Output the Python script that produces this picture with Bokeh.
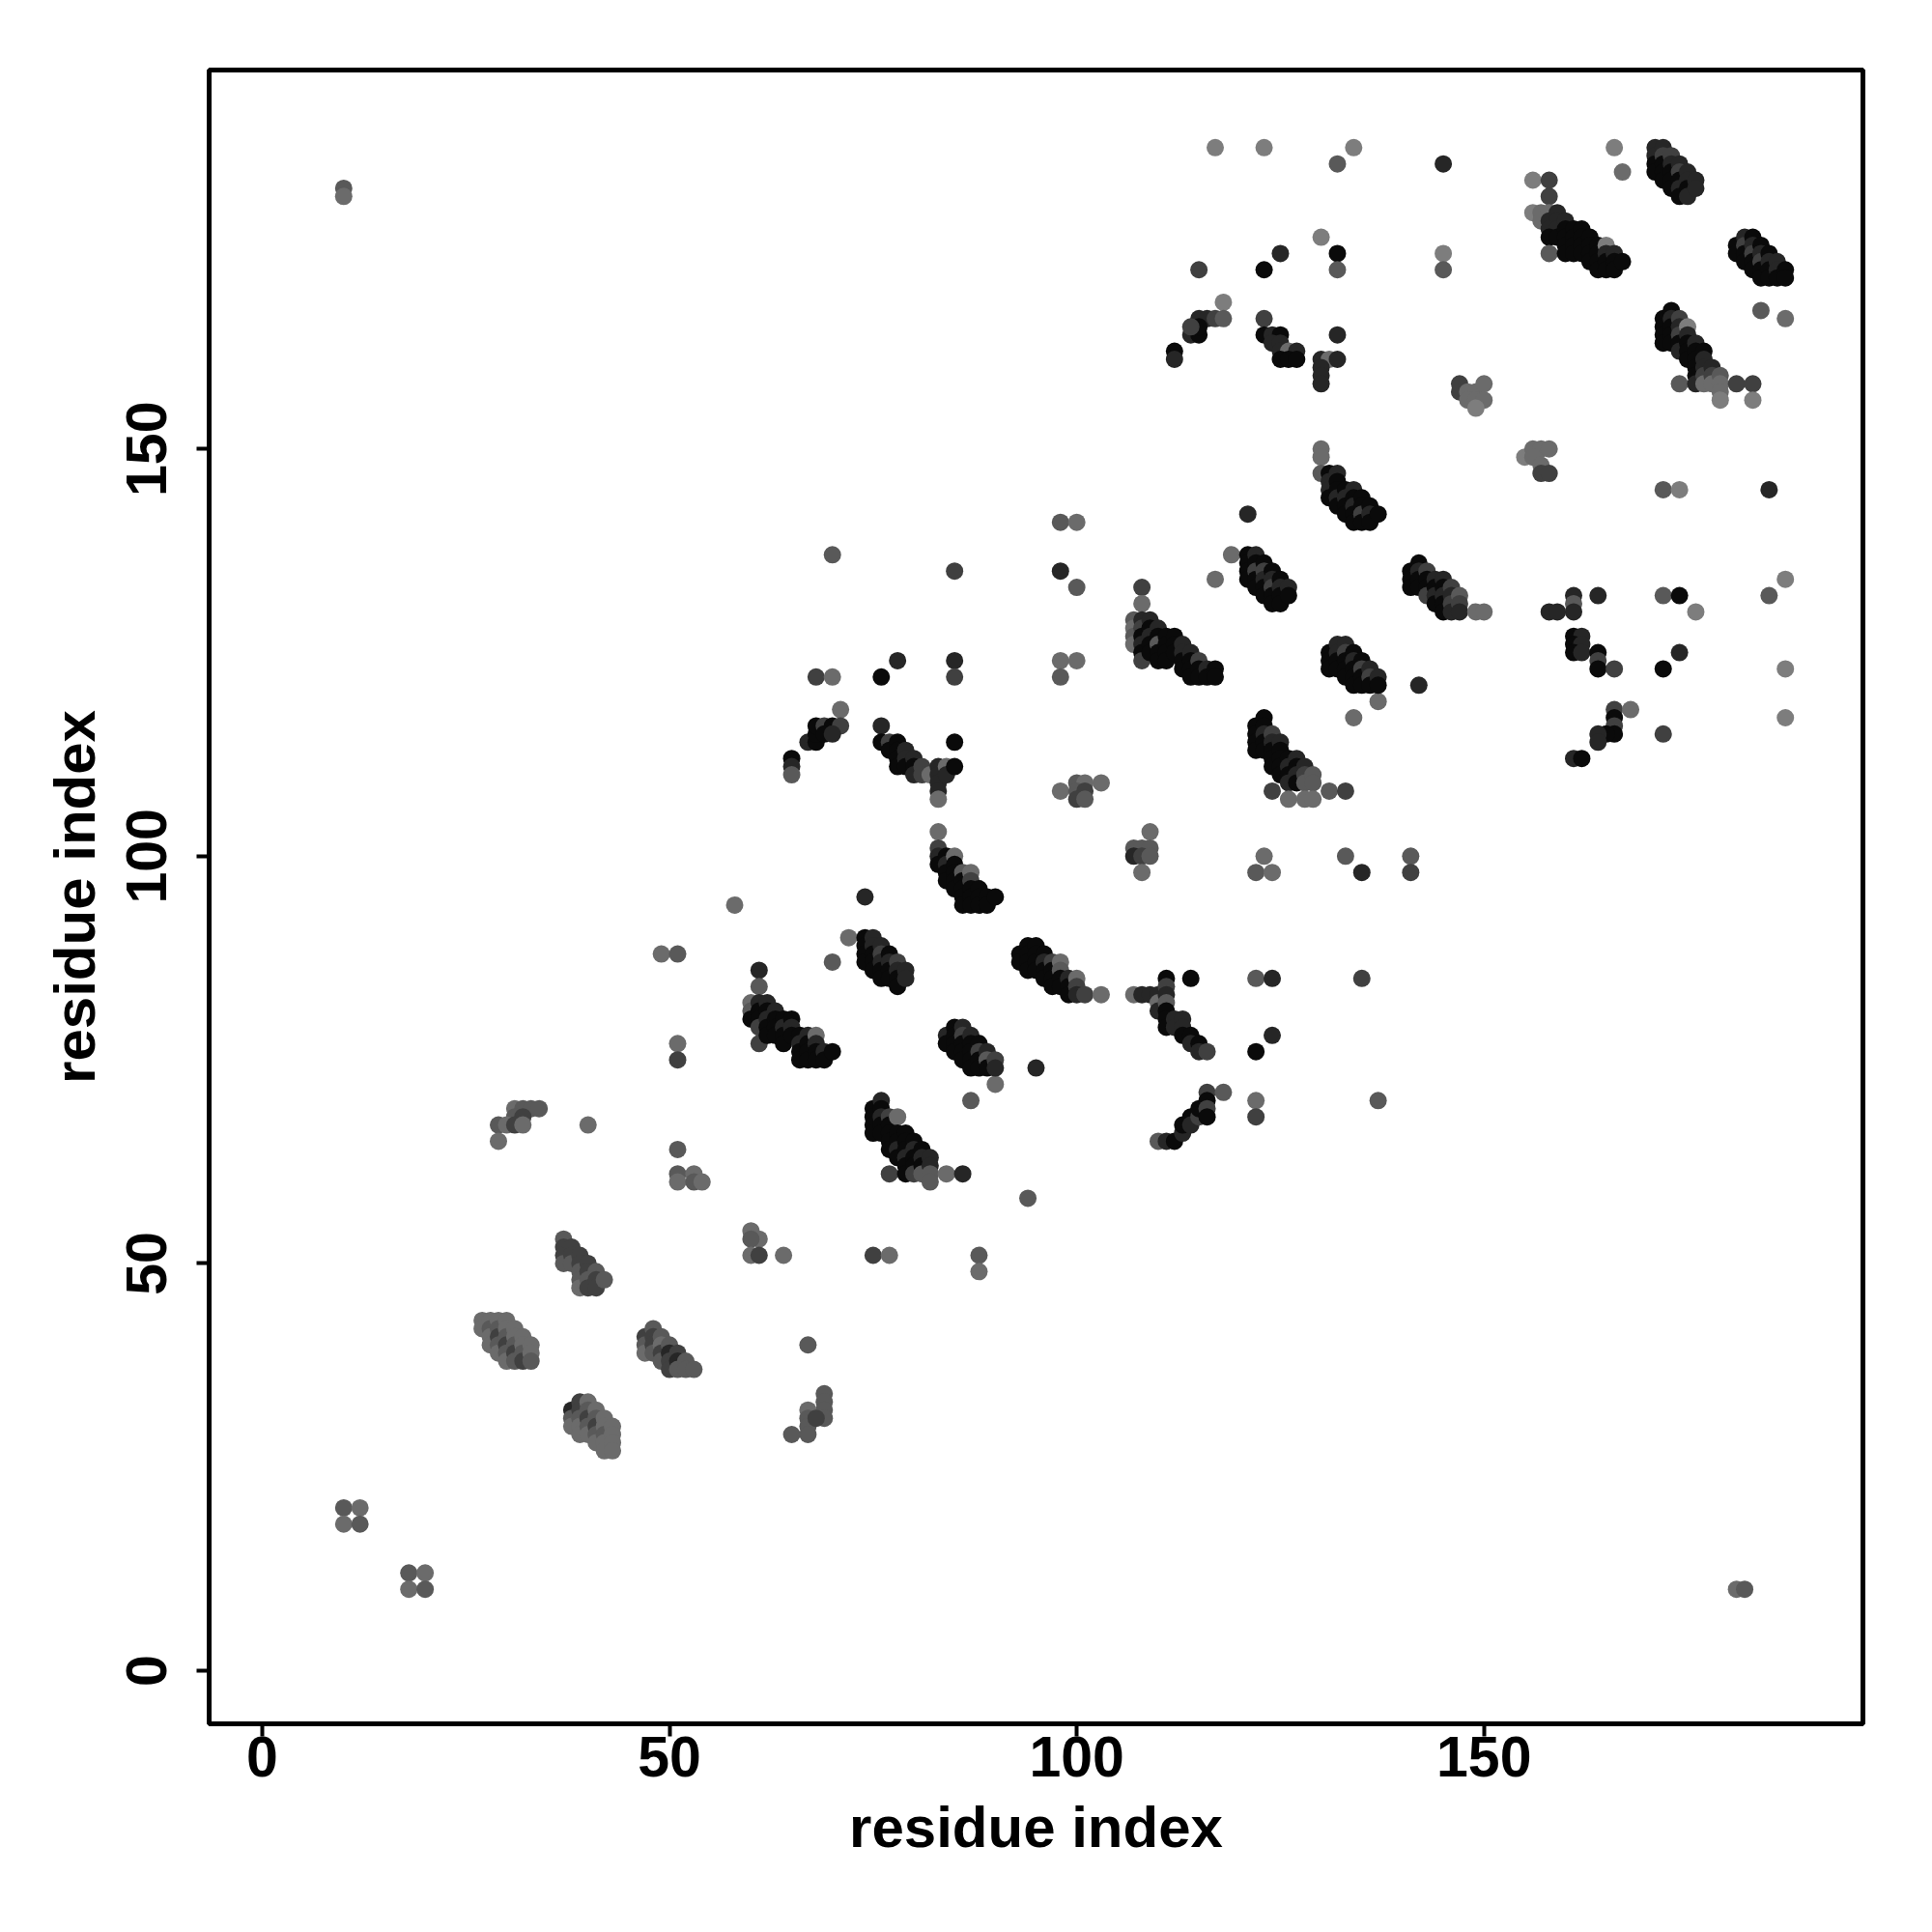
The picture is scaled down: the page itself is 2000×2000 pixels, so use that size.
from bokeh.plotting import figure
from bokeh.models import FixedTicker, Range1d
from bokeh.embed import file_html
from bokeh.resources import INLINE

# gray levels (k = darkest ... w = lightest)
shade_codes = ["k", "d", "m", "g", "l", "w"]
shade_hex = ["#0a0a0a", "#262626", "#404040", "#595959", "#6b6b6b", "#7d7d7d"]

# contacts: (residue i, residue j, shade)
far_pairs = [(10,182,'g'),(10,181,'l'),(181,10,'l'),(182,10,'g'),
             (10,20,'g'),(12,20,'l'),(10,18,'l'),(12,18,'g'),
             (18,12,'g'),(20,12,'l'),(18,10,'l'),(20,10,'g')]

block_27_43 = [(27,43,'l'),(27,42,'l'),
               (28,43,'l'),(28,42,'g'),(28,41,'l'),(28,40,'l'),
               (29,43,'l'),(29,42,'g'),(29,41,'m'),(29,40,'g'),(29,39,'l'),
               (30,43,'l'),(30,42,'l'),(30,41,'g'),(30,40,'m'),(30,39,'g'),(30,38,'l'),
               (31,42,'l'),(31,41,'l'),(31,40,'g'),(31,39,'m'),(31,38,'g'),
               (32,41,'l'),(32,40,'l'),(32,39,'g'),(32,38,'m'),
               (33,40,'l'),(33,39,'l'),(33,38,'g')]

block_38_33 = [(38,32,'d'),(38,31,'g'),(38,30,'l'),
               (39,33,'m'),(39,32,'m'),(39,31,'g'),(39,30,'l'),(39,29,'l'),
               (40,33,'l'),(40,32,'g'),(40,31,'m'),(40,30,'g'),(40,29,'l'),
               (41,32,'l'),(41,31,'g'),(41,30,'m'),(41,29,'g'),(41,28,'l'),
               (42,31,'l'),(42,30,'l'),(42,29,'g'),(42,28,'l'),(42,27,'l'),
               (43,30,'l'),(43,29,'l'),(43,28,'l'),(43,27,'l')]

block_29_69 = [(31,69,'l'),(32,69,'g'),(33,69,'g'),(34,69,'g'),(31,68,'g'),(32,68,'m'),
               (29,67,'g'),(30,67,'l'),(31,67,'m'),(32,67,'l'),(29,65,'l'),(40,67,'l')]

block_37_53 = [(37,53,'g'),(37,52,'m'),(37,51,'m'),(37,50,'g'),
               (38,52,'m'),(38,51,'m'),(38,50,'g'),
               (39,51,'m'),(39,50,'m'),(39,49,'g'),(39,48,'g'),(39,47,'l'),
               (40,50,'m'),(40,49,'m'),(40,48,'g'),(40,47,'m'),
               (41,49,'g'),(41,48,'m'),(41,47,'m'),(42,48,'g')]

block_47_42 = [(47,41,'m'),(47,40,'g'),(47,39,'l'),
               (48,42,'g'),(48,41,'m'),(48,40,'m'),(48,39,'g'),
               (49,41,'g'),(49,40,'l'),(49,39,'m'),(49,38,'g'),
               (50,40,'g'),(50,39,'d'),(50,38,'m'),(50,37,'m'),
               (51,39,'m'),(51,38,'d'),(51,37,'g'),(52,38,'g'),(52,37,'g'),(53,37,'g')]

block_65_34 = [(67,40,'g'),(69,34,'g'),(69,33,'g'),(69,32,'g'),(69,31,'g'),(67,32,'l'),
               (67,31,'g'),(67,30,'g'),(67,29,'g'),(65,29,'g'),(68,31,'m')]

scatter_50_95 = [(58,94,'l'),(49,88,'l'),(51,88,'g'),(51,77,'l'),(51,75,'m'),(51,64,'g'),
                 (51,61,'g'),(53,61,'l'),(51,60,'l'),(53,60,'g'),(54,60,'l'),(60,54,'l'),
                 (61,53,'l'),(60,53,'g'),(60,51,'l'),(61,51,'m'),(64,51,'l'),(75,51,'m'),
                 (77,51,'l'),(88,51,'g'),(88,49,'l'),(94,58,'g'),(72,90,'l'),(70,87,'g'),
                 (90,72,'l'),(87,70,'g'),(95,74,'d'),(61,86,'d'),(61,84,'g'),(61,77,'m')]

block_60_82 = [(60,82,'l'),(60,81,'g'),(60,80,'k'),
               (61,82,'d'),(61,81,'k'),(61,80,'k'),(61,79,'m'),
               (62,82,'d'),(62,81,'k'),(62,80,'d'),(62,79,'k'),(62,78,'k'),
               (63,81,'d'),(63,80,'k'),(63,79,'k'),(63,78,'k'),
               (64,80,'k'),(64,79,'d'),(64,78,'k'),(64,77,'k'),
               (65,80,'k'),(65,79,'d'),(65,78,'k'),
               (66,78,'k'),(66,77,'d'),(66,76,'k'),(66,75,'k'),
               (67,78,'d'),(67,77,'k'),(67,76,'k'),(67,75,'k'),
               (68,78,'l'),(68,77,'d'),(68,76,'k'),(68,75,'k'),
               (69,76,'d'),(69,75,'k'),(70,76,'k')]

block_74_90 = [(74,90,'k'),(74,89,'k'),(74,88,'k'),(74,87,'k'),
               (75,90,'d'),(75,89,'d'),(75,88,'k'),(75,87,'k'),(75,86,'k'),
               (76,89,'d'),(76,88,'m'),(76,87,'d'),(76,86,'k'),(76,85,'k'),
               (77,88,'k'),(77,87,'d'),(77,86,'k'),(77,85,'k'),
               (78,87,'m'),(78,86,'d'),(78,85,'k'),(78,84,'k'),
               (79,86,'d'),(79,85,'d')]

block_84_79 = [(84,78,'d'),(84,77,'k'),
               (85,79,'k'),(85,78,'k'),(85,77,'k'),(85,76,'k'),
               (86,79,'d'),(86,78,'m'),(86,77,'k'),(86,76,'k'),(86,75,'k'),
               (87,78,'d'),(87,77,'k'),(87,76,'k'),(87,75,'k'),(87,74,'k'),
               (88,77,'k'),(88,76,'m'),(88,75,'k'),(88,74,'k'),
               (89,76,'d'),(89,75,'g'),(89,74,'k'),(90,75,'m'),(90,74,'d')]

block_75_70 = [(75,69,'k'),(75,68,'k'),(75,67,'k'),(75,66,'k'),
               (76,70,'d'),(76,69,'k'),(76,68,'d'),(76,67,'k'),(76,66,'k'),
               (77,68,'m'),(77,67,'k'),(77,66,'k'),(77,65,'k'),(77,64,'k'),(77,61,'m'),
               (78,68,'l'),(78,66,'k'),(78,65,'k'),(78,64,'d'),(78,63,'k'),
               (79,66,'k'),(79,65,'k'),(79,64,'k'),(79,63,'d'),(79,62,'k'),(79,61,'k'),
               (80,65,'k'),(80,64,'d'),(80,63,'k'),(80,62,'k'),(80,61,'m'),
               (81,64,'k'),(81,63,'d'),(81,62,'k'),(81,61,'g'),
               (82,63,'d'),(82,62,'d'),(82,61,'g'),(82,60,'g'),(84,61,'l'),(86,61,'d')]

scatter_65_137 = [(70,137,'g'),(85,135,'m'),(68,122,'m'),(70,122,'l'),(76,122,'k'),(78,124,'d'),
                  (85,124,'d'),(85,122,'m'),(71,118,'l'),(74,95,'d')]

block_65_116 = [(65,112,'k'),(65,111,'d'),(65,110,'g'),(67,114,'d'),(68,114,'k'),(68,115,'k'),
                (68,116,'k'),(69,116,'m'),(70,116,'k'),(71,116,'m'),(69,115,'k'),(70,115,'d')]

block_76_116 = [(76,116,'d'),(76,114,'k'),(77,114,'m'),(77,113,'k'),
                (78,114,'k'),(78,113,'k'),(78,112,'k'),(78,111,'k'),
                (79,113,'d'),(79,112,'d'),(79,111,'k'),
                (80,112,'d'),(80,111,'k'),(80,110,'d'),(81,111,'m'),(81,110,'m'),(82,110,'l'),
                (83,111,'d'),(83,110,'d'),(83,109,'d'),(83,108,'d'),(83,107,'l'),
                (84,111,'l'),(84,110,'d'),(85,111,'k'),(85,114,'k')]

block_83_103 = [(83,103,'l'),(83,101,'m'),(83,100,'d'),(83,99,'k'),
                (84,100,'k'),(84,99,'d'),(84,98,'k'),(84,97,'k'),
                (85,100,'l'),(85,99,'k'),(85,98,'k'),(85,97,'k'),(85,96,'k'),
                (86,98,'g'),(86,97,'k'),(86,96,'k'),(86,95,'k'),(86,94,'k'),
                (87,98,'l'),(87,97,'m'),(87,96,'k'),(87,95,'k'),(87,94,'k'),
                (88,96,'k'),(88,95,'k'),(88,94,'k'),(89,95,'k'),(89,94,'k'),(90,95,'k')]

block_93_89 = [(93,88,'k'),(93,87,'k'),
               (94,89,'k'),(94,88,'k'),(94,87,'k'),(94,86,'k'),
               (95,89,'k'),(95,88,'k'),(95,87,'k'),(95,86,'k'),
               (96,88,'k'),(96,87,'d'),(96,86,'k'),(96,85,'k'),
               (97,87,'m'),(97,86,'k'),(97,85,'k'),(97,84,'k'),
               (98,87,'l'),(98,86,'g'),(98,85,'k'),(98,84,'k'),
               (99,85,'d'),(99,84,'k'),(99,83,'k'),
               (100,85,'l'),(100,84,'m'),(100,83,'d'),(101,83,'m'),(103,83,'l')]

block_107_85 = [(107,83,'l'),(108,83,'d'),(109,83,'d'),(110,83,'d'),(110,82,'l'),(110,81,'d'),
                (111,85,'k'),(111,84,'m'),(111,83,'d'),(111,82,'g'),(111,81,'k'),(111,80,'k'),
                (111,79,'k'),(112,80,'d'),(112,79,'d'),(113,80,'d'),(113,79,'d'),(113,78,'k'),
                (114,85,'k'),(114,78,'k'),(114,77,'d'),(115,77,'k'),(115,76,'d'),(116,76,'m')]

scatter_120_85 = [(122,85,'g'),(124,85,'d'),(135,85,'m'),(124,78,'d'),(122,76,'k'),
                  (122,70,'l'),(122,68,'m'),(137,70,'g')]

block_110_71 = [(110,65,'g'),(111,65,'d'),(112,65,'k'),(113,66,'d'),(113,67,'k'),(114,68,'k'),
                (114,67,'d'),(115,68,'m'),(115,69,'k'),(116,71,'m'),(116,70,'k'),(116,69,'m'),
                (116,68,'k'),(118,71,'g')]

scatter_98_141 = [(98,141,'g'),(100,141,'l'),(98,135,'d'),(100,133,'g'),(98,124,'l'),(100,124,'l'),
                  (98,122,'g'),(121,142,'d'),(119,137,'l'),(117,134,'l'),(142,121,'d'),
                  (137,119,'l'),(134,117,'l'),(123,100,'l'),(122,98,'g'),(124,98,'l'),
                  (133,100,'g'),(135,98,'d'),(141,100,'g'),(141,98,'m'),
                  (109,103,'l'),(107,101,'g'),(108,101,'g'),(109,101,'g'),(107,100,'d'),
                  (108,100,'m'),(109,100,'g'),(108,98,'l'),
                  (98,108,'l'),(100,109,'g'),(101,109,'l'),(100,108,'g'),(101,108,'m'),
                  (100,107,'m'),(101,107,'g'),(103,109,'l')]

block_121_137 = [(121,137,'k'),(121,136,'k'),(121,135,'k'),(121,134,'k'),
                 (122,137,'d'),(122,136,'k'),(122,135,'m'),(122,134,'k'),(122,133,'k'),
                 (123,136,'k'),(123,135,'m'),(123,134,'d'),(123,133,'k'),(123,132,'k'),
                 (124,135,'k'),(124,134,'d'),(124,133,'m'),(124,132,'k'),(124,131,'k'),
                 (125,134,'k'),(125,133,'d'),(125,132,'k'),(125,131,'k'),
                 (126,133,'d'),(126,132,'k')]

block_130_150 = [(130,150,'l'),(130,149,'l'),(130,147,'g'),
                 (131,147,'k'),(131,146,'d'),(131,145,'d'),(131,144,'k'),
                 (132,147,'d'),(132,146,'k'),(132,145,'k'),(132,144,'d'),(132,143,'k'),
                 (133,145,'k'),(133,144,'d'),(133,143,'k'),(133,142,'k'),
                 (134,145,'d'),(134,144,'k'),(134,143,'d'),(134,142,'k'),(134,141,'k'),
                 (135,144,'k'),(135,143,'k'),(135,142,'m'),(135,141,'k'),
                 (136,143,'k'),(136,142,'d'),(136,141,'k'),(137,142,'k')]

block_141_136 = [(141,135,'k'),(141,134,'k'),(141,133,'k'),
                 (142,136,'k'),(142,135,'d'),(142,134,'k'),(142,133,'k'),
                 (143,135,'m'),(143,134,'k'),(143,133,'k'),(143,132,'m'),
                 (144,134,'d'),(144,133,'k'),(144,132,'d'),(144,131,'k'),
                 (145,134,'d'),(145,133,'k'),(145,132,'d'),(145,131,'k'),(145,130,'k'),
                 (146,133,'m'),(146,132,'d'),(146,131,'m'),(146,130,'d'),
                 (147,132,'g'),(147,131,'m'),(147,130,'d'),(149,130,'l'),(150,130,'l')]

block_131_126 = [(131,125,'k'),(131,124,'k'),(131,123,'k'),
                 (132,126,'d'),(132,125,'d'),(132,124,'k'),(132,123,'k'),
                 (133,126,'d'),(133,125,'m'),(133,124,'k'),(133,123,'k'),(133,122,'k'),
                 (134,125,'k'),(134,124,'d'),(134,123,'k'),(134,122,'k'),(134,121,'k'),
                 (135,124,'k'),(135,123,'m'),(135,122,'k'),(135,121,'k'),
                 (136,123,'d'),(136,122,'m'),(136,121,'k'),(137,122,'d'),(137,121,'k')]

block_107_133 = [(108,133,'m'),(108,131,'l'),
                 (107,129,'g'),(107,128,'l'),(107,127,'g'),(107,126,'l'),
                 (108,129,'d'),(108,128,'m'),(108,127,'k'),(108,126,'d'),(108,125,'k'),(108,124,'m'),
                 (109,129,'d'),(109,128,'k'),(109,127,'d'),(109,126,'k'),(109,125,'k'),
                 (110,128,'d'),(110,127,'k'),(110,126,'g'),(110,125,'k'),(110,124,'k'),
                 (111,127,'k'),(111,126,'k'),(111,125,'k'),(111,124,'k'),
                 (112,127,'k'),(112,126,'k'),(112,125,'k'),
                 (113,126,'d'),(113,125,'d'),(113,124,'k'),(113,123,'k'),
                 (114,125,'d'),(114,124,'k'),(114,123,'k'),(114,122,'k'),
                 (115,124,'m'),(115,123,'k'),(115,122,'k'),
                 (116,123,'d'),(116,122,'k'),(117,123,'k'),(117,122,'k')]

block_122_117 = [(122,116,'k'),(122,115,'k'),(122,114,'k'),(122,113,'k'),
                 (123,117,'k'),(123,116,'k'),(123,115,'d'),(123,114,'k'),(123,113,'k'),
                 (124,115,'m'),(124,114,'d'),(124,113,'k'),(124,112,'k'),(124,111,'k'),(124,108,'m'),
                 (125,114,'d'),(125,113,'k'),(125,112,'k'),(125,111,'k'),(125,110,'k'),
                 (126,112,'k'),(126,111,'d'),(126,110,'k'),(126,109,'d'),(126,107,'l'),
                 (127,112,'d'),(127,111,'k'),(127,110,'d'),(127,109,'k'),
                 (128,111,'d'),(128,110,'m'),(128,109,'g'),(128,107,'l'),
                 (129,110,'g'),(129,109,'g'),(129,107,'l'),(131,108,'g'),(133,108,'m')]

scatter_115_187 = [(117,187,'w'),(123,187,'w'),(134,187,'w'),(132,185,'g'),(145,185,'d'),
                   (130,176,'w'),(132,174,'k'),(132,172,'g'),(125,174,'d'),(123,172,'k'),
                   (115,172,'m'),(145,174,'w'),(145,172,'g'),(118,168,'w'),(132,164,'d')]

block_112_166 = [(115,166,'d'),(116,166,'d'),(117,166,'m'),(118,166,'g'),(114,164,'d'),
                 (115,164,'k'),(115,165,'k'),(114,165,'m'),(112,162,'k'),(112,161,'d'),
                 (123,166,'m'),(123,164,'k'),(124,164,'d'),(125,164,'k'),(124,163,'d'),
                 (125,163,'d'),(125,162,'d'),(126,162,'l'),(127,162,'d'),(125,161,'k'),
                 (126,161,'k'),(127,161,'k'),
                 (130,161,'d'),(131,161,'l'),(132,161,'d'),(130,160,'d'),(130,159,'d'),(130,158,'d')]

block_171_187 = [(166,187,'w'),(167,184,'l'),
                 (171,187,'d'),(171,186,'d'),(171,185,'k'),(171,184,'k'),
                 (172,187,'d'),(172,186,'m'),(172,185,'k'),(172,184,'k'),(172,183,'k'),
                 (173,186,'m'),(173,185,'d'),(173,184,'k'),(173,183,'k'),(173,182,'k'),
                 (174,185,'d'),(174,184,'m'),(174,183,'k'),(174,182,'d'),(174,181,'k'),
                 (175,184,'d'),(175,183,'d'),(175,182,'k'),(175,181,'d'),
                 (176,183,'d'),(176,182,'d')]

block_156_183 = [(156,183,'w'),(158,183,'m'),(158,181,'m'),(156,179,'w'),(157,179,'l'),
                 (158,179,'l'),(159,179,'d'),(157,178,'l'),(158,178,'d'),(159,178,'d'),
                 (158,177,'d'),(159,177,'d'),(158,176,'k'),(159,176,'k'),(158,174,'g'),
                 (160,178,'d'),(160,177,'k'),(160,176,'k'),(160,175,'k'),(160,174,'k'),
                 (161,177,'k'),(161,176,'k'),(161,175,'k'),(161,174,'k'),
                 (162,177,'k'),(162,176,'k'),(162,175,'k'),(162,174,'k'),
                 (163,176,'k'),(163,175,'k'),(163,174,'k'),(163,173,'k'),
                 (164,175,'k'),(164,174,'k'),(164,173,'k'),(164,172,'k'),
                 (165,175,'w'),(165,174,'d'),(165,173,'k'),(165,172,'k'),
                 (166,174,'d'),(166,173,'k'),(166,172,'k'),(167,173,'k')]

block_181_176 = [(181,175,'k'),(181,174,'k'),
                 (182,176,'d'),(182,175,'m'),(182,174,'k'),(182,173,'k'),
                 (183,176,'k'),(183,175,'d'),(183,174,'m'),(183,173,'k'),(183,172,'k'),
                 (184,175,'k'),(184,174,'d'),(184,173,'m'),(184,172,'k'),(184,171,'k'),
                 (185,174,'k'),(185,173,'d'),(185,172,'k'),(185,171,'k'),
                 (186,173,'d'),(186,172,'d'),(186,171,'k'),(187,172,'k'),(187,171,'k'),
                 (184,167,'g'),(187,166,'l')]

block_172_167 = [(172,166,'k'),(172,165,'k'),(172,164,'k'),(172,163,'k'),
                 (173,167,'k'),(173,166,'d'),(173,165,'k'),(173,164,'k'),(173,163,'k'),
                 (174,166,'m'),(174,165,'d'),(174,164,'m'),(174,163,'k'),(174,162,'d'),(174,158,'g'),
                 (175,165,'w'),(175,164,'d'),(175,163,'k'),(175,162,'k'),(175,161,'k'),
                 (176,163,'d'),(176,162,'k'),(176,161,'k'),(176,160,'k'),(176,159,'k'),(176,158,'d'),
                 (177,162,'k'),(177,161,'d'),(177,160,'d'),(177,159,'m'),(177,158,'l'),
                 (178,160,'d'),(178,159,'m'),(178,158,'l'),
                 (179,159,'g'),(179,158,'l'),(179,157,'l'),(179,156,'w'),
                 (181,158,'m'),(183,158,'m'),(183,156,'w')]

block_147_158 = [(147,158,'m'),(147,157,'m'),(148,157,'l'),(149,157,'l'),(150,158,'l'),
                 (148,156,'l'),(149,156,'l'),(150,156,'l'),(149,155,'w'),
                 (155,149,'w'),(156,150,'l'),(157,150,'l'),(158,150,'l'),(156,149,'l'),
                 (157,148,'l'),(157,147,'m'),(158,147,'m'),
                 (172,145,'g'),(174,145,'w'),(185,145,'d')]

block_158_132 = [(158,130,'d'),(159,130,'d'),(161,132,'d'),(161,131,'g'),(161,130,'d'),
                 (164,132,'d'),(161,127,'k'),(162,127,'d'),(161,126,'k'),(162,126,'d'),
                 (161,125,'k'),(162,125,'d'),(164,125,'k'),(164,124,'m'),(164,123,'k'),
                 (166,123,'m'),
                 (172,132,'g'),(174,132,'k'),(176,130,'w'),(185,132,'g'),(187,134,'w'),
                 (174,125,'d'),(172,123,'k'),(187,123,'w'),(187,117,'w'),(172,115,'m'),
                 (166,118,'m'),(168,118,'l'),(166,117,'k'),(166,116,'m'),(166,115,'k'),
                 (165,115,'k'),(164,115,'d'),(164,114,'d'),(161,112,'d'),(162,112,'k')]

groups = [far_pairs, block_27_43, block_38_33, block_29_69, block_37_53, block_47_42,
          block_65_34, scatter_50_95, block_60_82, block_74_90, block_84_79, block_75_70,
          scatter_65_137, block_65_116, block_76_116, block_83_103, block_93_89,
          block_107_85, scatter_120_85, block_110_71, scatter_98_141, block_121_137,
          block_130_150, block_141_136, block_131_126, block_107_133, block_122_117,
          scatter_115_187, block_112_166, block_171_187, block_156_183, block_181_176,
          block_172_167, block_147_158, block_158_132]

tick_values = [0, 50, 100, 150]
axis_title = "residue index"

shade_map = dict(zip(shade_codes, shade_hex))
xs, ys, cols = [], [], []
for g in groups:
    for (a, b, s) in g:
        xs.append(a)
        ys.append(b)
        cols.append(shade_map[s])

FONT = "Liberation Sans"

p = figure(width=1970, height=1930, output_backend="svg", toolbar_location=None,
           x_range=Range1d(-6.52, 196.52), y_range=Range1d(-6.52, 196.52),
           min_border_left=216, min_border_top=72, min_border_right=42, min_border_bottom=146)

p.scatter(xs, ys, size=18, fill_color=cols, line_color=None)

p.grid.visible = False
p.outline_line_color = "black"
p.outline_line_width = 5
p.background_fill_color = "white"
p.border_fill_color = "white"

for ax in (p.xaxis[0], p.yaxis[0]):
    ax.ticker = FixedTicker(ticks=tick_values)
    ax.axis_line_color = None
    ax.major_tick_in = 0
    ax.major_tick_out = 13
    ax.major_tick_line_width = 4
    ax.major_tick_line_color = "black"
    ax.minor_tick_line_color = None
    ax.major_label_text_font = FONT
    ax.major_label_text_font_style = "bold"
    ax.major_label_text_font_size = "59px"
    ax.major_label_text_color = "black"
    ax.axis_label = axis_title
    ax.axis_label_text_font = FONT
    ax.axis_label_text_font_style = "bold"
    ax.axis_label_text_font_size = "60px"
    ax.axis_label_text_color = "black"

p.xaxis.major_label_standoff = 0
p.xaxis.axis_label_standoff = 16
p.yaxis.major_label_orientation = "vertical"
p.yaxis.major_label_standoff = 31
p.yaxis.axis_label_standoff = 18

open("out.html", "w").write(file_html(p, INLINE))
